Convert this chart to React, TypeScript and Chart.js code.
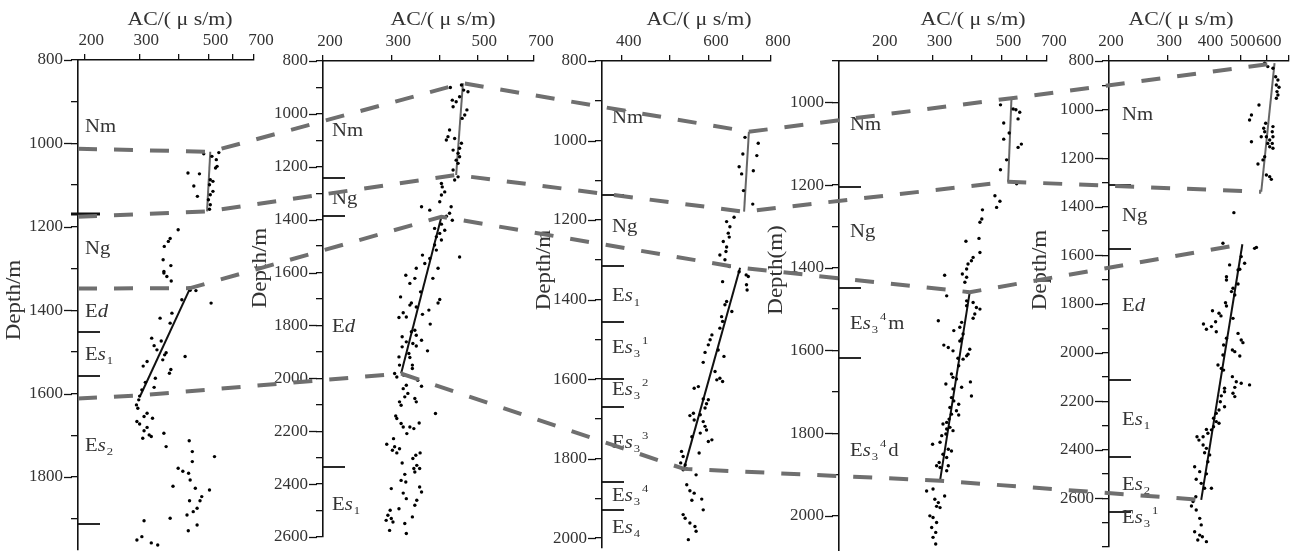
import React, { useEffect, useRef } from 'react';
import { Chart, registerables } from 'chart.js';

Chart.register(...registerables);

// ---------------- DATA ----------------
// Well 1
const well1Points: [number, number][] = [
  [483,1025],[540,1022],[513,1031],[530,1039],[533,1055],[527,1059],[430,1071],[468,1073],[507,1087],[517,1091],
  [449,1102],[504,1099],[517,1115],[507,1123],[461,1127],[500,1135],[507,1147],[504,1158],[400,1207],[377,1228],
  [372,1235],[361,1247],[358,1279],[379,1293],[360,1307],[360,1311],[368,1319],[380,1330],[437,1352],[456,1353],
  [411,1375],[510,1383],[382,1407],[350,1419],[377,1431],[329,1467],[353,1474],[335,1485],[342,1495],[366,1502],
  [362,1507],[421,1511],[357,1519],[318,1523],[309,1534],[379,1542],[375,1551],[338,1563],[314,1573],[335,1585],
  [306,1591],[301,1606],[299,1615],[294,1627],[297,1635],[318,1647],[311,1655],[331,1659],[295,1667],[301,1673],
  [318,1681],[311,1689],[323,1699],[308,1707],[328,1703],[360,1695],[366,1727],[434,1713],[444,1739],[444,1763],
  [523,1751],[400,1779],[414,1786],[432,1791],[437,1807],[385,1822],[454,1827],[504,1831],[476,1847],[470,1857],
  [435,1857],[460,1875],[447,1883],[427,1891],[377,1899],[311,1905],[460,1915],[431,1929],[295,1951],[306,1943],
  [328,1958],[344,1963],
];
const well1Upper: [number, number][] = [[507,1020],[495,1163]];
const well1Lower: [number, number][] = [[437,1347],[303,1604]];
const well1Bounds = [1170, 1452, 1558, 1913];
const well1Labels: [string, number][] = [['Nm',962],['Ng',1255],['Ed',1404],['Es1',1507],['Es2',1727]];
const well1AcTicks = [200,300,400,500,600,700];
const well1AcLabels = [200,300,500,700];
const well1DepthTicks = [800,900,1000,1100,1200,1300,1400,1500,1600,1700,1800,1900];
const well1DepthLabels = [800,1000,1200,1400,1600,1800];
const well1AcRange = [191, 700];
const well1DepthRange = [800, 1975];

// Well 2
const well2Points: [number, number][] = [
  [426,900],[455,891],[461,910],[473,916],[431,948],[441,954],[450,935],[433,973],[470,985],[464,1004],
  [457,1017],[424,1061],[420,1086],[437,1093],[416,1099],[455,1111],[450,1130],[433,1137],[446,1149],[450,1162],
  [441,1175],[446,1187],[433,1212],[446,1238],[437,1250],[404,1263],[406,1276],[412,1295],[404,1307],[400,1332],
  [359,1351],[377,1364],[428,1351],[424,1376],[416,1387],[431,1402],[404,1417],[388,1433],[412,1440],[400,1452],
  [392,1465],[404,1477],[388,1496],[392,1515],[450,1541],[361,1534],[377,1547],[366,1566],[348,1584],[327,1610],
  [396,1584],[345,1622],[335,1641],[384,1622],[357,1673],[317,1692],[400,1702],[396,1715],[338,1715],[335,1723],
  [348,1730],[375,1742],[361,1758],[322,1752],[314,1770],[328,1768],[378,1795],[345,1818],[338,1824],[348,1837],
  [320,1843],[359,1856],[328,1862],[341,1868],[320,1881],[348,1878],[372,1896],[333,1906],[335,1921],[314,1919],
  [315,1950],[340,1950],[340,1963],[306,1982],[310,1995],[323,1988],[351,2007],[359,2030],[328,2026],[322,2039],
  [331,2057],[325,2070],[315,2089],[318,2102],[345,2076],[348,2089],[390,2133],[308,2142],[310,2152],[318,2171],
  [322,2184],[354,2169],[335,2184],[343,2190],[329,2209],[304,2228],[292,2249],[306,2259],[315,2266],[302,2272],
  [310,2282],[356,2282],[347,2291],[341,2303],[320,2320],[349,2329],[343,2341],[345,2354],[355,2341],[325,2363],
  [318,2386],[327,2392],[300,2417],[355,2411],[359,2430],[322,2434],[328,2455],[349,2461],[345,2480],[314,2493],
  [298,2499],[294,2518],[300,2530],[303,2543],[340,2524],[325,2549],[291,2537],[297,2575],[328,2587],
];
const well2Upper: [number, number][] = [[459,884],[441,1231]];
const well2Lower: [number, number][] = [[404,1389],[318,1982]];
const well2Bounds = [1244, 1386, 2335];
const well2Labels: [string, number][] = [['Nm',1067],['Ng',1322],['Ed',1805],['Es1',2480]];
const well2AcTicks = [200,300,400,500,600,700];
const well2AcLabels = [200,300,500,700];
const well2DepthTicks = [800,900,1000,1100,1200,1300,1400,1500,1600,1700,1800,1900,2000,2100,2200,2300,2400,2500,2600];
const well2DepthLabels = [800,1000,1200,1400,1600,1800,2000,2200,2400,2600];
const well2AcRange = [200, 700];
const well2DepthRange = [800, 2600];

// Well 3
const well3Points: [number, number][] = [
  [709,992],[754,1007],[702,1034],[749,1038],[690,1066],[737,1076],[698,1084],[704,1126],[735,1160],[674,1193],
  [651,1204],[661,1217],[656,1233],[659,1243],[641,1254],[651,1268],[649,1279],[631,1288],[646,1300],[659,1317],
  [690,1330],[713,1338],[720,1342],[714,1363],[716,1376],[639,1355],[651,1405],[646,1413],[667,1430],[636,1443],
  [639,1455],[631,1472],[608,1489],[603,1501],[598,1514],[589,1533],[626,1527],[643,1543],[584,1558],[617,1581],
  [631,1598],[639,1606],[622,1602],[571,1619],[560,1623],[598,1652],[593,1662],[584,1650],[589,1673],[558,1686],
  [549,1692],[576,1690],[560,1703],[584,1707],[589,1719],[593,1728],[576,1736],[554,1745],[608,1753],[598,1757],
  [573,1786],[528,1782],[532,1795],[526,1811],[537,1816],[532,1828],[541,1826],[565,1841],[541,1866],[549,1881],
  [560,1887],[580,1902],[554,1905],[584,1929],[532,1941],[537,1950],[549,1962],[562,1971],[565,1983],[545,2004],
];
const well3Upper: [number, number][] = [[722,978],[706,1179]];
const well3Lower: [number, number][] = [[693,1320],[534,1826]];
const well3Bounds = [1137, 1315, 1456, 1600, 1671, 1859, 1930];
const well3Labels: [string, number][] = [
  ['Nm',944],['Ng',1217],['Es1',1393],['Es3^1',1522],['Es3^2',1627],['Es3^3',1761],['Es3^4',1895],['Es4',1975],
];
const well3AcTicks = [400,500,600,700,800];
const well3AcLabels = [400,600,800];
const well3DepthTicks = [800,900,1000,1100,1200,1300,1400,1500,1600,1700,1800,1900,2000];
const well3DepthLabels = [800,1000,1200,1400,1600,1800,2000];
const well3AcRange = [365, 800];
const well3DepthRange = [800, 2025];

// Well 4
const well4Points: [number, number][] = [
  [496,1006],[545,1016],[572,1024],[556,1018],[508,1050],[529,1074],[565,1040],[508,1089],[579,1101],[565,1109],
  [519,1139],[496,1163],[559,1197],[476,1226],[494,1239],[482,1254],[434,1260],[432,1282],[426,1290],[423,1329],
  [384,1336],[426,1363],[405,1375],[400,1383],[390,1391],[386,1403],[328,1418],[374,1415],[386,1423],[381,1435],
  [333,1468],[390,1459],[386,1480],[405,1484],[415,1496],[426,1500],[410,1512],[405,1522],[386,1492],[313,1528],
  [372,1532],[367,1544],[351,1552],[376,1560],[372,1572],[367,1577],[326,1587],[337,1593],[349,1601],[395,1597],
  [386,1613],[362,1619],[376,1621],[390,1609],[364,1637],[345,1657],[349,1665],[358,1669],[331,1681],[372,1689],
  [397,1676],[400,1710],[349,1693],[345,1714],[351,1722],[364,1730],[341,1738],[358,1746],[345,1754],[364,1756],
  [339,1766],[333,1774],[324,1778],[341,1786],[333,1790],[331,1802],[349,1794],[321,1806],[300,1827],[317,1822],
  [337,1839],[345,1843],[324,1851],[333,1859],[315,1871],[309,1879],[317,1883],[337,1879],[333,1891],[287,1940],
  [301,1935],[328,1952],[305,1960],[313,1968],[317,1980],[309,1977],[294,2000],[301,2004],[309,2016],[298,2028],
  [307,2040],[301,2052],[307,2068],
];
const well4Upper: [number, number][] = [[538,990],[525,1192]];
const well4Lower: [number, number][] = [[395,1459],[317,1915]];
const well4Bounds = [1204, 1450, 1618];
const well4Labels: [string, number][] = [['Nm',1056],['Ng',1314],['Es3^4m',1536],['Es3^4d',1843]];
const well4AcTicks = [200,300,400,500,600,700];
const well4AcLabels = [200,300,500,700];
const well4DepthTicks = [900,1000,1100,1200,1300,1400,1500,1600,1700,1800,1900,2000];
const well4DepthLabels = [1000,1200,1400,1600,1800,2000];
const well4AcRange = [150, 700];
const well4DepthRange = [900, 2085];

// Well 5
const well5Points: [number, number][] = [
  [591,809],[604,823],[626,830],[638,865],[648,878],[641,899],[653,908],[644,926],[648,940],[641,953],
  [568,981],[539,1022],[532,1043],[595,1056],[587,1077],[626,1070],[591,1091],[623,1091],[577,1112],[598,1112],
  [626,1112],[539,1132],[612,1125],[604,1139],[623,1139],[612,1153],[626,1159],[591,1194],[584,1207],[564,1224],
  [598,1269],[612,1276],[619,1287],[477,1424],[442,1550],[551,1571],[558,1567],[502,1605],[463,1639],[514,1632],
  [497,1657],[453,1688],[491,1660],[453,1701],[491,1718],[474,1735],[469,1749],[480,1763],[450,1795],[453,1808],
  [411,1828],[430,1838],[436,1849],[420,1873],[422,1914],[386,1882],[394,1904],[408,1893],[474,1859],[491,1921],
  [502,1948],[508,1959],[453,1941],[444,1969],[472,1989],[480,1996],[497,2014],[442,2010],[427,2051],[437,2065],
  [444,2072],[472,2099],[485,2120],[502,2126],[532,2133],[480,2143],[474,2167],[480,2181],[447,2147],[447,2161],
  [437,2178],[434,2202],[447,2223],[430,2236],[422,2250],[414,2270],[422,2284],[430,2291],[414,2305],[408,2318],
  [394,2316],[398,2332],[385,2346],[369,2346],[374,2360],[385,2380],[394,2394],[389,2412],[403,2421],[398,2449],
  [363,2470],[376,2490],[394,2499],[367,2521],[380,2538],[389,2558],[408,2558],[366,2593],[359,2613],[355,2631],
  [367,2648],[376,2682],[380,2709],[363,2737],[376,2751],[383,2758],[371,2771],[394,2778],
];
const well5Upper: [number, number][] = [[633,809],[577,1338]];
const well5Lower: [number, number][] = [[506,1554],[380,2606]];
const well5Bounds = [1310, 1573, 2112, 2431, 2656];
const well5Labels: [string, number][] = [['Nm',1022],['Ng',1441],['Ed',1811],['Es1',2277],['Es2',2545],['Es3^1',2682]];
const well5AcTicks = [200,300,400,500,600,700];
const well5AcLabels = [200,300,400,500,600];
const well5DepthTicks = [800,900,1000,1100,1200,1300,1400,1500,1600,1700,1800,1900,2000,2100,2200,2300,2400,2500,2600,2700,2800];
const well5DepthLabels = [800,1000,1200,1400,1600,1800,2000,2200,2400,2600];
const well5AcRange = [200, 700];
const well5DepthRange = [800, 2800];

// Correlation lines: [well index, AC, depth]
const corrLine1: [number, number, number][] = [[0,191,1013],[0,507,1020],[1,459,884],[2,722,978],[3,538,990],[4,633,809]];
const corrLine2: [number, number, number][] = [[0,191,1176],[0,495,1163],[1,441,1231],[2,706,1179],[3,525,1192],[4,577,1338]];
const corrLine3: [number, number, number][] = [[0,191,1348],[0,437,1347],[1,404,1389],[2,693,1320],[3,395,1459],[4,506,1554]];
const corrLine4: [number, number, number][] = [[0,191,1612],[0,303,1604],[1,318,1982],[2,534,1826],[3,317,1915],[4,380,2606]];

const xTitle = 'AC/( μ s/m)';
const yTitles = ['Depth/m', 'Depth/m', 'Depth/m', 'Depth(m)', 'Depth/m'];

// ---------------- LAYOUT / STYLE ----------------
const FONT = '"Liberation Serif", "Times New Roman", serif';
const AXIS = '#111';
const TEXT = '#333';
const SX = 1.15;

const BOX = [
  { left: 78, right: 254, top: 60, bottom: 550, titleX: 180, yTitleX: 15, yTitleY: 300, indent: 7 },
  { left: 323, right: 534, top: 61, bottom: 537, titleX: 443, yTitleX: 261, yTitleY: 268, indent: 9 },
  { left: 602, right: 771, top: 61, bottom: 548, titleX: 699, yTitleX: 545, yTitleY: 270, indent: 10 },
  { left: 839, right: 1047, top: 61, bottom: 551, titleX: 973, yTitleX: 777, yTitleY: 270, indent: 11 },
  { left: 1109, right: 1289, top: 61, bottom: 547, titleX: 1181, yTitleX: 1041, yTitleY: 270, indent: 13 },
];

const WELLS = [
  { pts: well1Points, up: well1Upper, lo: well1Lower, bounds: well1Bounds, labels: well1Labels, acT: well1AcTicks, acL: well1AcLabels, dT: well1DepthTicks, dL: well1DepthLabels, acR: well1AcRange, dR: well1DepthRange },
  { pts: well2Points, up: well2Upper, lo: well2Lower, bounds: well2Bounds, labels: well2Labels, acT: well2AcTicks, acL: well2AcLabels, dT: well2DepthTicks, dL: well2DepthLabels, acR: well2AcRange, dR: well2DepthRange },
  { pts: well3Points, up: well3Upper, lo: well3Lower, bounds: well3Bounds, labels: well3Labels, acT: well3AcTicks, acL: well3AcLabels, dT: well3DepthTicks, dL: well3DepthLabels, acR: well3AcRange, dR: well3DepthRange },
  { pts: well4Points, up: well4Upper, lo: well4Lower, bounds: well4Bounds, labels: well4Labels, acT: well4AcTicks, acL: well4AcLabels, dT: well4DepthTicks, dL: well4DepthLabels, acR: well4AcRange, dR: well4DepthRange },
  { pts: well5Points, up: well5Upper, lo: well5Lower, bounds: well5Bounds, labels: well5Labels, acT: well5AcTicks, acL: well5AcLabels, dT: well5DepthTicks, dL: well5DepthLabels, acR: well5AcRange, dR: well5DepthRange },
];
const CORR = [corrLine1, corrLine2, corrLine3, corrLine4];

type Seg = { t: string; it?: boolean; sub?: boolean; sup?: boolean };
function parseFormation(code: string): Seg[] {
  if (code[0] !== 'E') return [{ t: code }];
  const segs: Seg[] = [{ t: 'E' }, { t: code[1], it: true }];
  let rest = code.slice(2);
  let m = rest.match(/^(\d)/);
  if (m) { segs.push({ t: m[1], sub: true }); rest = rest.slice(1); }
  m = rest.match(/^\^(\d)/);
  if (m) { segs.push({ t: m[1], sup: true }); rest = rest.slice(2); }
  if (rest) segs.push({ t: rest });
  return segs;
}

function drawText(ctx: CanvasRenderingContext2D, text: string, x: number, y: number, font: string, align: CanvasTextAlign, rot = 0) {
  ctx.save();
  ctx.font = font;
  ctx.translate(x, y);
  if (rot) ctx.rotate(rot);
  ctx.scale(SX, 1);
  ctx.textAlign = align;
  ctx.textBaseline = 'middle';
  ctx.fillText(text, 0, 0);
  ctx.restore();
}

function drawFormation(ctx: CanvasRenderingContext2D, code: string, x: number, y: number) {
  let cx = x;
  parseFormation(code).forEach((s) => {
    const small = s.sub || s.sup;
    const font = `${s.it ? 'italic ' : ''}${small ? 11 : 18}px ${FONT}`;
    const dy = s.sub ? 6 : s.sup ? -7 : 0;
    drawText(ctx, s.t, cx, y + dy, font, 'left');
    ctx.font = font;
    cx += ctx.measureText(s.t).width * SX + (s.it ? 1 : 0) + (small ? 2 : 0);
  });
}

const panelPlugin = {
  id: 'panelPlugin',
  afterLayout(chart: any) {
    BOX.forEach((b, i) => {
      const xs = chart.scales['x' + i];
      const ys = chart.scales['y' + i];
      xs.left = b.left; xs.right = b.right; xs.bottom = b.top; xs.top = b.top - 45;
      xs.width = b.right - b.left; xs.height = 45;
      ys.left = b.left - 62; ys.right = b.left; ys.top = b.top; ys.bottom = b.bottom;
      ys.width = 62; ys.height = b.bottom - b.top;
      [xs, ys].forEach((s: any) => { s.configure(); s._gridLineItems = null; s._labelItems = null; });
    });
    // the whole canvas is the drawing area (points outside chartArea are otherwise skipped)
    const ca = chart.chartArea;
    ca.left = 0; ca.top = 0; ca.right = chart.width; ca.bottom = chart.height;
    ca.width = chart.width; ca.height = chart.height;
  },
  afterDatasetsDraw(chart: any) {
    const ctx: CanvasRenderingContext2D = chart.ctx;
    ctx.save();
    WELLS.forEach((w, i) => {
      const ys = chart.scales['y' + i];
      const ax = ys.right;
      // longer major ticks
      ctx.strokeStyle = AXIS;
      ctx.lineWidth = 1.3;
      w.dL.forEach((v) => {
        const y = Math.round(ys.getPixelForValue(v)) + 0.5;
        ctx.beginPath(); ctx.moveTo(ax - 14, y); ctx.lineTo(ax - 6, y); ctx.stroke();
      });
      // formation boundary marks
      w.bounds.forEach((d, k) => {
        const y = Math.round(ys.getPixelForValue(d));
        const thick = i === 0 && k === 0;
        ctx.lineWidth = thick ? 3 : 1.8;
        ctx.beginPath(); ctx.moveTo(ax - (thick ? 7 : 0), y); ctx.lineTo(ax + 22, y); ctx.stroke();
      });
      // formation labels
      ctx.fillStyle = TEXT;
      w.labels.forEach(([code, d]) => {
        drawFormation(ctx, code, ax + BOX[i].indent, ys.getPixelForValue(d));
      });
      // axis titles
      drawText(ctx, xTitle, BOX[i].titleX, 20, `19px ${FONT}`, 'center');
      drawText(ctx, yTitles[i], BOX[i].yTitleX, BOX[i].yTitleY, `20px ${FONT}`, 'center', -Math.PI / 2);
    });
    // correlation dashed lines
    ctx.strokeStyle = '#6f6f6f';
    ctx.lineWidth = 4;
    ctx.setLineDash([19, 17]);
    CORR.forEach((line) => {
      ctx.beginPath();
      line.forEach(([p, ac, d], k) => {
        const x = chart.scales['x' + p].getPixelForValue(ac);
        const y = chart.scales['y' + p].getPixelForValue(d);
        if (k === 0) ctx.moveTo(x, y); else ctx.lineTo(x, y);
      });
      ctx.stroke();
    });
    ctx.restore();
  },
};

function buildConfig(): any {
  const scales: any = {};
  const datasets: any[] = [];
  WELLS.forEach((w, i) => {
    scales['x' + i] = {
      type: 'logarithmic',
      position: 'top',
      min: w.acR[0],
      max: w.acR[1],
      afterBuildTicks: (s: any) => { s.ticks = w.acT.map((v) => ({ value: v })); },
      ticks: {
        autoSkip: false, maxRotation: 0, minRotation: 0, padding: 3,
        labelOffset: i === 4 ? 2 : 7,
        color: TEXT, font: { family: FONT, size: 17 },
        callback: (v: number) => (w.acL.includes(v) ? String(v) : ''),
      },
      grid: { display: true, drawOnChartArea: false, drawTicks: true, tickLength: 6, color: AXIS, lineWidth: 1.3 },
      border: { display: true, color: AXIS, width: 1.6 },
      title: { display: false },
    };
    scales['y' + i] = {
      type: 'linear',
      position: 'left',
      reverse: true,
      min: w.dR[0],
      max: w.dR[1],
      afterBuildTicks: (s: any) => { s.ticks = w.dT.map((v) => ({ value: v })); },
      ticks: {
        autoSkip: false, padding: 8,
        color: TEXT, font: { family: FONT, size: 17 },
        callback: (v: number) => (w.dL.includes(v) ? String(v) : ''),
      },
      grid: { display: true, drawOnChartArea: false, drawTicks: true, tickLength: 7, color: AXIS, lineWidth: 1.3 },
      border: { display: true, color: AXIS, width: 1.6 },
      title: { display: false },
    };
    datasets.push({
      data: w.pts.map(([a, d]) => ({ x: a, y: d })),
      xAxisID: 'x' + i, yAxisID: 'y' + i,
      pointRadius: 1.7, pointBorderWidth: 0, backgroundColor: '#000', borderColor: '#000',
      showLine: false, clip: false,
    });
    datasets.push({
      data: w.up.map(([a, d]) => ({ x: a, y: d })),
      xAxisID: 'x' + i, yAxisID: 'y' + i,
      showLine: true, pointRadius: 0, borderColor: '#666', borderWidth: 2, clip: false,
    });
    datasets.push({
      data: w.lo.map(([a, d]) => ({ x: a, y: d })),
      xAxisID: 'x' + i, yAxisID: 'y' + i,
      showLine: true, pointRadius: 0, borderColor: '#111', borderWidth: 2, clip: false,
    });
  });
  return {
    type: 'scatter',
    data: { datasets },
    options: {
      animation: false,
      responsive: false,
      events: [],
      layout: { padding: 0 },
      plugins: { legend: { display: false }, tooltip: { enabled: false }, title: { display: false } },
      scales,
    },
    plugins: [panelPlugin],
  };
}

export default function App() {
  const ref = useRef<HTMLCanvasElement>(null);
  useEffect(() => {
    if (!ref.current) return;
    const chart = new Chart(ref.current, buildConfig());
    return () => chart.destroy();
  }, []);
  return (
    <div style={{ position: 'fixed', left: 0, top: 0, width: 1295, height: 551, background: '#fff' }}>
      <canvas ref={ref} width={1295} height={551} style={{ width: 1295, height: 551, display: 'block' }} />
    </div>
  );
}
